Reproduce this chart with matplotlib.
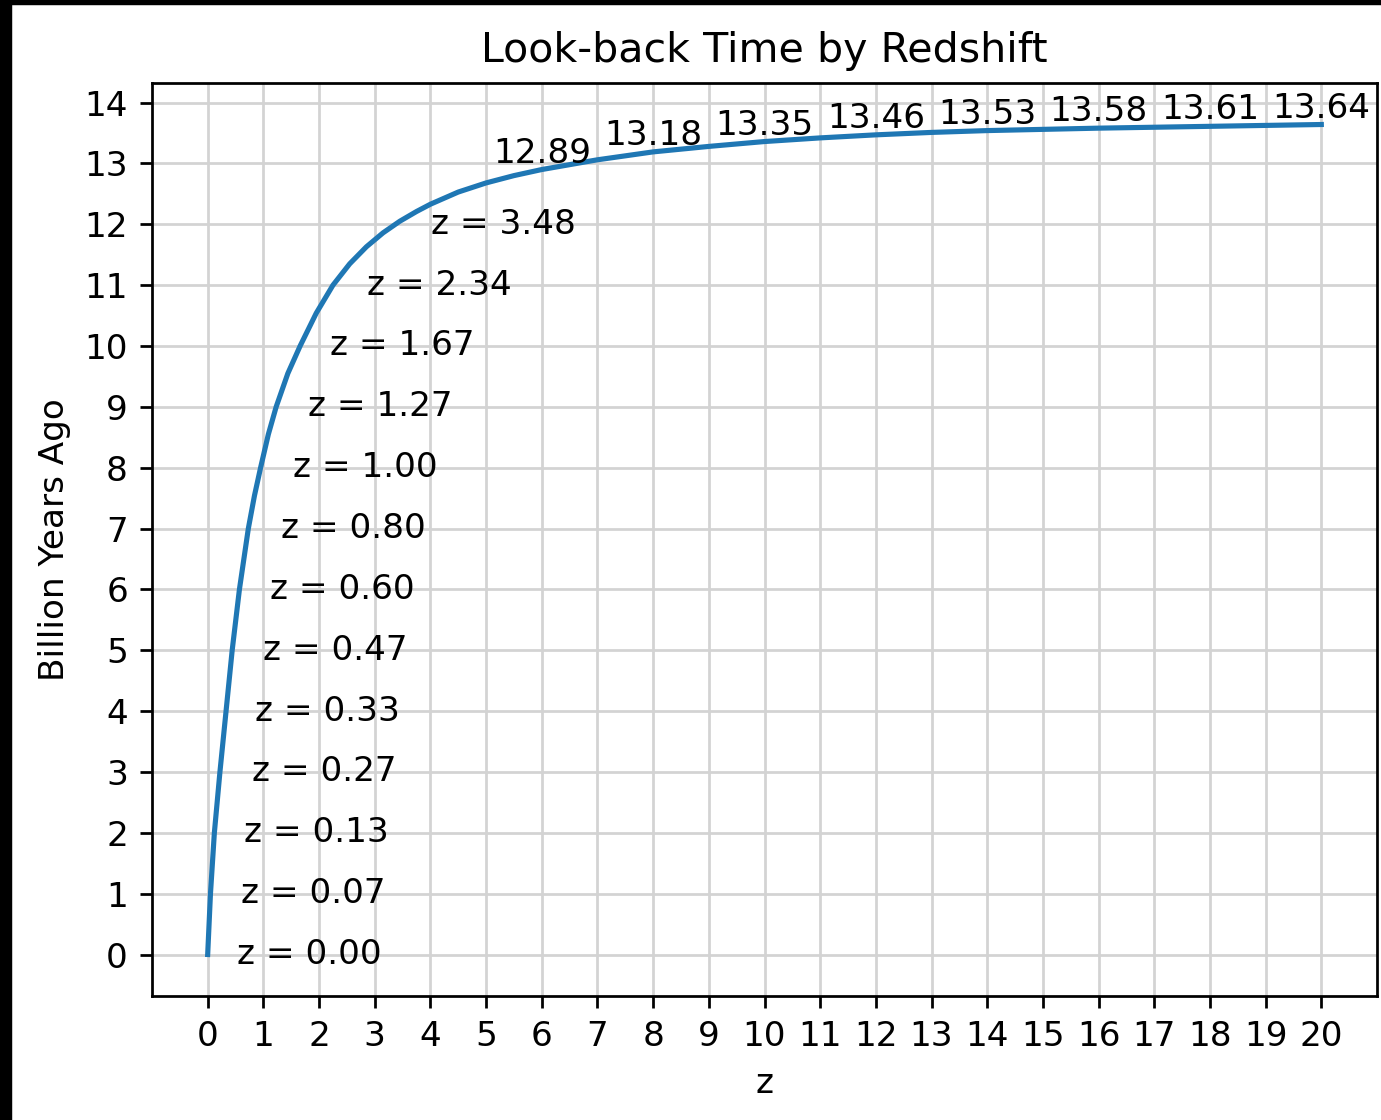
"""
Look-back time vs redshift, with z labels at whole Gyr and t labels at even z
"""
import matplotlib
matplotlib.use('Agg')
import matplotlib.pyplot as plt
from matplotlib.patches import Rectangle

# curve
z_curve = [0, 0.05, 0.12, 0.22, 0.33, 0.44, 0.57, 0.73, 0.84, 0.95, 1.09, 1.23, 1.44, 1.66,
           1.95, 2.25, 2.55, 2.85, 3.15, 3.45, 3.75, 4.0, 4.5, 5.0, 5.5, 6.0, 7.0, 8.0, 9.0,
           10, 11, 12, 13, 14, 16, 18, 20]
t_curve = [0, 1, 2, 3, 4, 5, 6, 7, 7.54, 8, 8.55, 9, 9.55, 10,
           10.54, 11.0, 11.35, 11.63, 11.86, 12.05, 12.21, 12.33, 12.53, 12.68, 12.80, 12.90, 13.06, 13.19, 13.28,
           13.36, 13.42, 13.47, 13.51, 13.54, 13.58, 13.61, 13.64]

# "z = ..." labels at whole billions of years
t_marks = list(range(13))
z_marks = [0.00, 0.07, 0.13, 0.27, 0.33, 0.47, 0.60, 0.80, 1.00, 1.27, 1.67, 2.34, 3.48]

# look-back labels at even z
z_top = [6, 8, 10, 12, 14, 16, 18, 20]
t_top = [12.89, 13.18, 13.35, 13.46, 13.53, 13.58, 13.61, 13.64]

W, H, DPI = 1381, 1120, 247
fig = plt.figure(figsize=(W/DPI, H/DPI), dpi=DPI)
ax = fig.add_axes([152/W, 1-996/H, 1225/W, 913/H])

ax.plot(z_curve, t_curve, color='#1f77b4', lw=1.5)
for z, t in zip(z_marks, t_marks):
    ax.annotate(f'z = {z:.2f}', (z, t), xytext=(8.5, 0), textcoords='offset points',
                ha='left', va='center', fontsize=10)
for z, t in zip(z_top, t_top):
    ax.text(z, t, f'{t:.2f}', ha='center', va='bottom', fontsize=10)

ax.set_xticks(range(0, 21))
ax.set_yticks(range(0, 15))
ax.grid(True, color='#d3d3d3', lw=0.8)
ax.set_axisbelow(True)
ax.set_xlabel('z')
ax.set_ylabel('Billion Years Ago')
ax.set_title('Look-back Time by Redshift')

# dark strips at the left and top edge of the screenshot
fig.patches.append(Rectangle((0, 0), 10/W, 1, transform=fig.transFigure, color='black', zorder=10))
fig.patches.append(Rectangle((0, 1-3/H), 1, 3/H, transform=fig.transFigure, color='black', zorder=10))

fig.savefig('out.png', dpi=DPI)
